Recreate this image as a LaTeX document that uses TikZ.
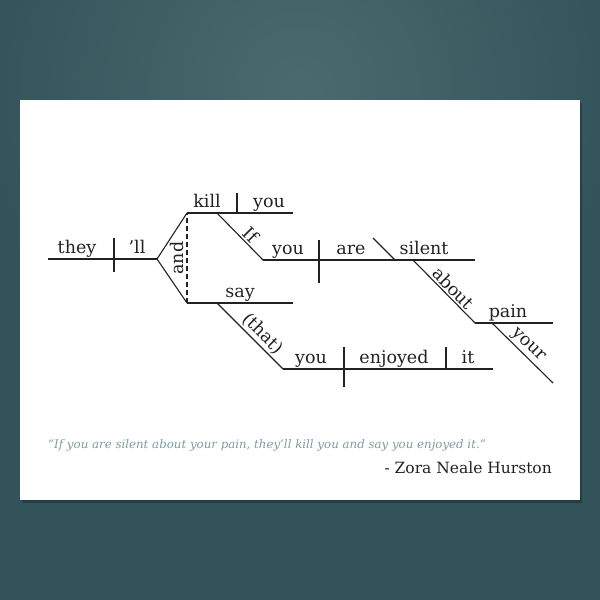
\documentclass[tikz,border=0pt]{standalone}
\usepackage{fontspec}
\setmainfont{DejaVu Serif}
\usepackage{tikz}
\usetikzlibrary{positioning}
\definecolor{bgdark}{HTML}{33535A}
\definecolor{bglight}{HTML}{4A6A70}
\definecolor{inkline}{HTML}{222222}
\definecolor{quotecol}{HTML}{7F9E9E}

\begin{document}
\begin{tikzpicture}[x=1pt,y=-1pt,
	word/.style={anchor=base,inner sep=0pt,font=\fontsize{17.5}{20}\selectfont,text=inkline},
	slword/.style={sloped,above,inner sep=2pt,font=\fontsize{17.5}{20}\selectfont,text=inkline},
	dline/.style={draw=inkline,line width=1.1pt}]
	\useasboundingbox (0,0) rectangle (600,600);

	% background and card
	\fill[bgdark] (0,0) rectangle (600,600);
	\begin{scope}
	\clip (0,0) rectangle (600,600);
	\shade[inner color=bglight,outer color=bgdark] (300,90) circle (330);
	\end{scope}
	\fill[black,opacity=.25] (22,103) rectangle (582,503);
	\fill[white] (20,100) rectangle (580,500);

	% points of the diagram
	\coordinate (s0) at (48,259);
	\coordinate (fork) at (157,259);
	\coordinate (ktop) at (187,213);
	\coordinate (kend) at (293,213);
	\coordinate (sbot) at (187,303);
	\coordinate (send) at (293,303);
	\coordinate (ifa) at (217,213);
	\coordinate (ifb) at (263,260);
	\coordinate (cend) at (475,260);
	\coordinate (aba) at (413,260);
	\coordinate (abb) at (475,323);
	\coordinate (pend) at (553,323);
	\coordinate (yra) at (492,323);
	\coordinate (yrb) at (553,383);
	\coordinate (tha) at (217,303);
	\coordinate (thb) at (283,369);
	\coordinate (oend) at (493,369);

	% main clause
	\draw[dline] (s0) -- (fork);
	\draw[dline] (114,238) -- (114,272);
	\node[word] (they) at (77,253) {they};
	\node[word] (ll) at (137,253) {’ll};
	\draw[dline] (ktop) -- (fork) -- (sbot);
	\draw[dline,dashed,dash pattern=on 5pt off 3pt] (sbot) -- node[slword,inner sep=3pt] (and) {and} (ktop);

	% kill you
	\draw[dline] (ktop) -- (kend);
	\draw[dline] (237,193) -- (237,213);
	\node[word] (kill) at (207,207) {kill};
	\node[word] (you1) at (269,207) {you};

	% if you are silent
	\draw[dline] (ifa) -- node[slword,pos=.6] (if) {If} (ifb);
	\draw[dline] (ifb) -- (cend);
	\draw[dline] (319,240) -- (319,283);
	\draw[dline] (373,238) -- (395,260);
	\node[word] (you2) at (288,254) {you};
	\node[word] (are) at (351,254) {are};
	\node[word] (silent) at (424,254) {silent};

	% about your pain
	\draw[dline] (aba) -- node[slword,pos=.55] (about) {about} (abb);
	\draw[dline] (abb) -- (pend);
	\node[word] (pain) at (508,317) {pain};
	\draw[dline] (yra) -- node[slword,pos=.48] (your) {your} (yrb);

	% say (that) you enjoyed it
	\draw[dline] (sbot) -- (send);
	\node[word] (say) at (240,297) {say};
	\draw[dline] (tha) -- node[slword,pos=.58] (that) {(that)} (thb);
	\draw[dline] (thb) -- (oend);
	\draw[dline] (344,347) -- (344,387);
	\draw[dline] (446,347) -- (446,369);
	\node[word] (you3) at (311,363) {you};
	\node[word] (enjoyed) at (394,363) {enjoyed};
	\node[word] (it) at (468,363) {it};

	% quote
	\node[anchor=base west,inner sep=0pt,text=quotecol,font=\fontsize{11.8}{13}\selectfont\itshape] (quote) at (48,448)
	  {“If you are silent about your pain, they’ll kill you and say you enjoyed it.”};
	\node[anchor=base east,inner sep=0pt,text=inkline,font=\fontsize{15.5}{17}\selectfont] (author) at (552,473)
	  {- Zora Neale Hurston};
\end{tikzpicture}
\end{document}
